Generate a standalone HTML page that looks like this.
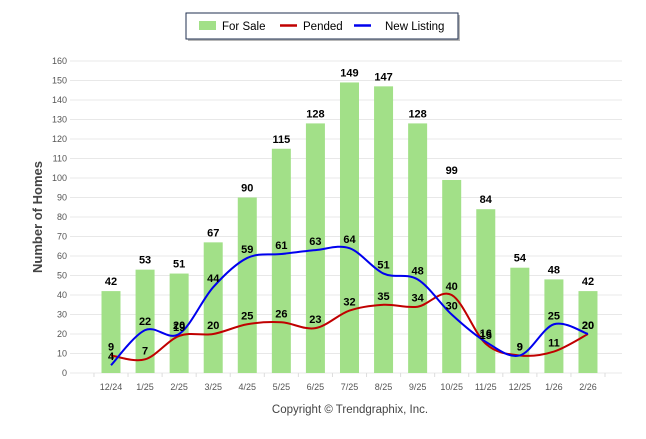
<!DOCTYPE html>
<html><head><meta charset="utf-8"><style>
body{margin:0;background:#fff;font-family:"Liberation Sans",sans-serif}
svg text{font-family:"Liberation Sans",sans-serif}
</style></head><body>
<svg id="c" width="646" height="434" xmlns="http://www.w3.org/2000/svg">
<g>
<rect x="188" y="15" width="272" height="26" fill="#888" opacity="0.6"/>
<rect x="186" y="13" width="272" height="26" fill="#fff" stroke="#1f2f4f" stroke-width="1"/>
<rect x="199" y="21" width="17" height="9" fill="#a2e088"/>
<text x="222" y="30" font-size="11.5" fill="#000">For Sale</text>
<line x1="280" y1="25.5" x2="297" y2="25.5" stroke="#c00000" stroke-width="2.5"/>
<text x="303" y="30" font-size="11.5" fill="#000">Pended</text>
<line x1="354" y1="25.5" x2="371" y2="25.5" stroke="#0000ee" stroke-width="2.5"/>
<text x="385" y="30" font-size="11.5" fill="#000">New Listing</text>
</g>
<text transform="translate(42,217) rotate(-90)" text-anchor="middle" font-size="13" font-weight="bold" fill="#444">Number of Homes</text>
<text x="350" y="413" text-anchor="middle" font-size="11.5" fill="#444">Copyright © Trendgraphix, Inc.</text>
<g id="grid"></g><g id="bars"></g><g id="lines"></g><g id="labels"></g>
</svg>
<script>
const categories=["12/24","1/25","2/25","3/25","4/25","5/25","6/25","7/25","8/25","9/25","10/25","11/25","12/25","1/26","2/26"];
const forSale=[42,53,51,67,90,115,128,149,147,128,99,84,54,48,42];
const pended=[9,7,19,20,25,26,23,32,35,34,40,15,9,11,20];
const newListing=[4,22,20,44,59,61,63,64,51,48,30,16,9,25,20];
const yTicks=[0,10,20,30,40,50,60,70,80,90,100,110,120,130,140,150,160];
const NS="http://www.w3.org/2000/svg";
const y0=373,y1=61,yMax=160,x0=111,step=34.07;
const ys=v=>y0-(v/yMax)*(y0-y1);
const xs=i=>x0+i*step;
function mk(t,a,p){const e=document.createElementNS(NS,t);for(const k in a)e.setAttribute(k,a[k]);p.appendChild(e);return e;}
const grid=document.getElementById('grid');
yTicks.forEach(v=>{
 const l=mk('line',{x1:70,x2:622,y1:ys(v),y2:ys(v),stroke:'#e8e8e8','stroke-width':1},grid);
 
 
 const t=mk('text',{x:67,y:ys(v)+3,'text-anchor':'end','font-size':9,fill:'#555'},grid);
 t.textContent=v;
 
 
});
for(let i=-1;i<categories.length;i++){mk('line',{x1:xs(i)+step/2,x2:xs(i)+step/2,y1:y0,y2:y0+4,stroke:'#ddd'},grid);}
categories.forEach((c,i)=>{
 const t=mk('text',{x:xs(i),y:390,'text-anchor':'middle','font-size':9,fill:'#555'},grid);
 t.textContent=c;
 
 
});
const bars=document.getElementById('bars'),labels=document.getElementById('labels');
function lab(x,y,v){const t=mk('text',{x:x,y:y,'text-anchor':'middle','font-size':11,'font-weight':'bold',fill:'#000'},labels);t.textContent=v;
 
 }
forSale.forEach((v,i)=>{
 const r=mk('rect',{x:xs(i)-9.5,y:ys(v),width:19,height:y0-ys(v),fill:'#a2e088'},bars);
 
 
 lab(xs(i),ys(v)-6,v);
});
function path(arr){
 const p=arr.map((v,i)=>[xs(i),ys(v)]);let d='M'+p[0][0]+','+p[0][1];
 for(let i=0;i<p.length-1;i++){const a=p[i-1]||p[i],b=p[i],c=p[i+1],e=p[i+2]||c;
  d+=' C'+(b[0]+(c[0]-a[0])/6)+','+(b[1]+(c[1]-a[1])/6)+' '+(c[0]-(e[0]-b[0])/6)+','+(c[1]-(e[1]-b[1])/6)+' '+c[0]+','+c[1];}
 return d;}
const lines=document.getElementById('lines');
const pp=mk('path',{d:path(pended),fill:'none',stroke:'#c00000','stroke-width':2},lines);


const pn=mk('path',{d:path(newListing),fill:'none',stroke:'#0000ee','stroke-width':2},lines);


pended.forEach((v,i)=>lab(xs(i),ys(v)-5,v));
newListing.forEach((v,i)=>lab(xs(i),ys(v)-5,v));
</script>
</body></html>
